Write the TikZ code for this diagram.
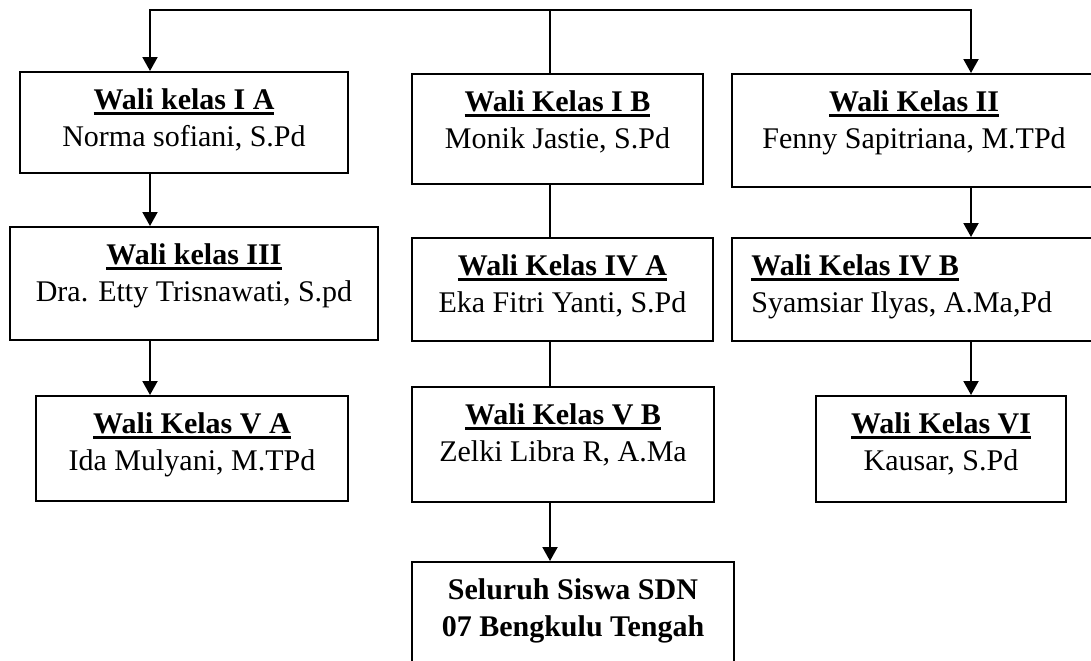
\documentclass[tikz,border=0pt]{standalone}
\usepackage{fontspec}
\setmainfont{Liberation Serif}
\usetikzlibrary{arrows.meta}
\tikzstyle{kotak}=[draw, line width=1pt, inner sep=0pt]
\tikzstyle{isi}=[anchor=north, yshift=-8.6pt, inner sep=0pt, align=center]
\tikzstyle{garis}=[line width=1pt]
\tikzstyle{panah}=[line width=1pt,-{Triangle[width=7.5pt,length=7pt]}]
\newsavebox{\judulbox}
\newcommand{\judul}[1]{\sbox{\judulbox}{\textbf{#1}}\rlap{\rule[-2.7pt]{\wd\judulbox}{1.3pt}}\usebox{\judulbox}}

\begin{document}
\begin{tikzpicture}[x=0.5pt,y=-0.5pt,font=\fontsize{15}{18.5}\selectfont]
    \useasboundingbox (0,0) rectangle (1091,660);
    \clip (0,0) rectangle (1091,660);

    % baris pertama
    \node[kotak,minimum width=164pt,minimum height=50.5pt] (ia) at (184,122.5)
        [label={[isi]north:{\judul{Wali kelas I A}\\Norma sofiani, S.Pd}}] {};
    \node[kotak,minimum width=145.5pt,minimum height=55pt] (ib) at (557.5,129)
        [label={[isi]north:{\judul{Wali Kelas I B}\\Monik Jastie, S.Pd}}] {};
    \node[kotak,minimum width=182pt,minimum height=56.5pt] (ii) at (914,130.5)
        [label={[isi]north:{\judul{Wali Kelas II}\\Fenny Sapitriana, M.TPd}}] {};

    % baris kedua
    \node[kotak,minimum width=184pt,minimum height=56.5pt] (iii) at (194,283.5)
        [label={[isi]north:{\judul{Wali kelas III}\\Dra. Etty Trisnawati, S.pd}}] {};
    \node[kotak,minimum width=150.5pt,minimum height=51.5pt] (iva) at (562.5,289.5)
        [label={[isi]north:{\judul{Wali Kelas IV A}\\Eka Fitri Yanti, S.Pd}}] {};
    \node[kotak,minimum width=182pt,minimum height=51.5pt] (ivb) at (914,289.5)
        [label={[isi,anchor=north west,xshift=10pt,align=left]north west:{\judul{Wali Kelas IV B}\\Syamsiar Ilyas, A.Ma,Pd}}] {};

    % baris ketiga
    \node[kotak,minimum width=156pt,minimum height=52.5pt] (va) at (192,448.5)
        [label={[isi]north:{\judul{Wali Kelas V A}\\Ida Mulyani, M.TPd}}] {};
    \node[kotak,minimum width=151pt,minimum height=57.5pt] (vb) at (563,444.5)
        [label={[isi]north:{\judul{Wali Kelas V B}\\Zelki Libra R, A.Ma}}] {};
    \node[kotak,minimum width=125pt,minimum height=53pt] (vi) at (941,449)
        [label={[isi]north:{\judul{Wali Kelas VI}\\Kausar, S.Pd}}] {};

    \node[kotak,minimum width=161pt,minimum height=60pt] (siswa) at (573,622)
        [label={[isi,font=\fontsize{15}{18.5}\selectfont\bfseries]north:{Seluruh Siswa SDN\\07 Bengkulu Tengah}}] {};

    \coordinate (kiri) at (150,10);
    \coordinate (tengah) at (550,10);
    \coordinate (kanan) at (971,10);

    \draw[panah] (tengah) -| (kiri |- ia.north);
    \draw[panah] (tengah) -| (kanan |- ii.north);
    \draw[garis] (tengah) -- (tengah |- ib.north);

    \draw[panah] (kiri |- ia.south) -- (kiri |- iii.north);
    \draw[panah] (kiri |- iii.south) -- (kiri |- va.north);
    \draw[garis] (tengah |- ib.south) -- (tengah |- iva.north);
    \draw[garis] (tengah |- iva.south) -- (tengah |- vb.north);
    \draw[panah] (tengah |- vb.south) -- (tengah |- siswa.north);
    \draw[panah] (kanan |- ii.south) -- (kanan |- ivb.north);
    \draw[panah] (kanan |- ivb.south) -- (kanan |- vi.north);
\end{tikzpicture}
\end{document}
